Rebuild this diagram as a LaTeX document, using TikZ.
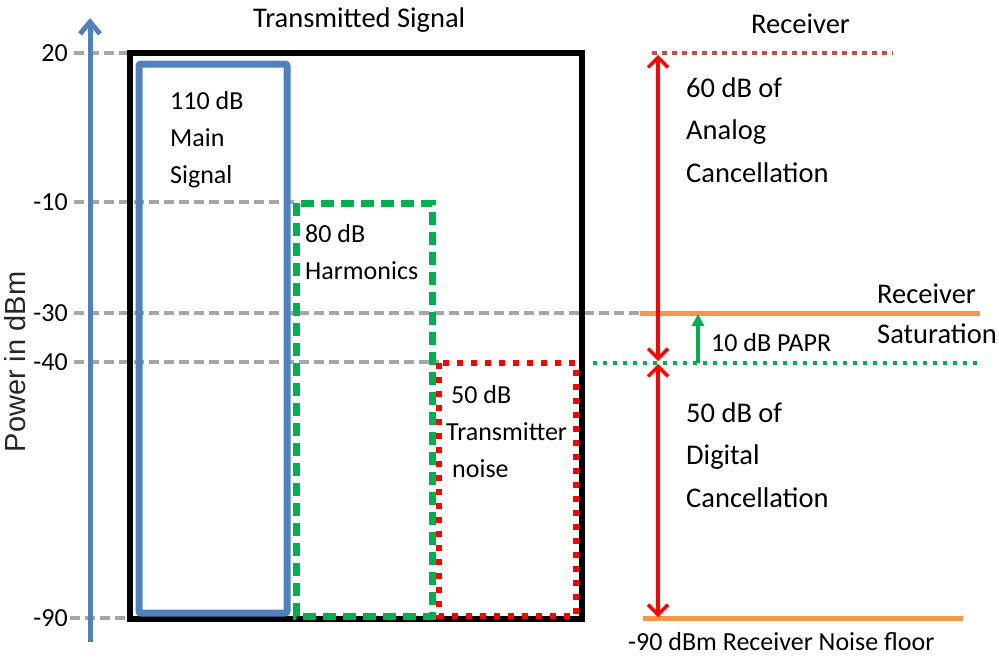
\documentclass[tikz,border=0pt]{standalone}
\usepackage{fontspec}
\setmainfont{Carlito}
\newfontfamily\axisfont{Liberation Sans}
\usetikzlibrary{arrows.meta}
\definecolor{axblue}{HTML}{4F81BD}
\definecolor{grn}{HTML}{00B050}
\definecolor{rd}{HTML}{FF0000}
\definecolor{org}{HTML}{F79646}
\definecolor{gry}{HTML}{A6A6A6}
\definecolor{rcv}{HTML}{C0504D}
\begin{document}
\begin{tikzpicture}[x=1pt,y=-1pt,
  big/.style={font=\fontsize{28.5}{42.5}\selectfont, inner sep=0pt, align=left, anchor=base west},
  small/.style={font=\fontsize{26}{37}\selectfont, inner sep=0pt, align=left, anchor=base west},
  tick/.style={font=\fontsize{26}{30}\selectfont, inner sep=0pt, anchor=east},
  guide/.style={gry, line width=3.5pt, dash pattern=on 10pt off 5pt},
  axisline/.style={axblue, line width=5pt, -{Straight Barb[length=12pt,width=20pt,line width=5pt]}},
  blackbox/.style={black, line width=6pt},
  mainbox/.style={axblue, line width=7pt, rounded corners=2pt},
  harmbox/.style={grn, line width=7pt, dash pattern=on 13pt off 7pt},
  noisebox/.style={rd, line width=6pt, dash pattern=on 6pt off 8pt},
  rcvline/.style={rcv, line width=4.5pt, dash pattern=on 4.5pt off 5.5pt},
  orangeline/.style={org, line width=5pt},
  greendots/.style={grn, line width=4pt, dash pattern=on 4pt off 6pt},
  cancel/.style={rd, line width=3.5pt, {Straight Barb[length=10pt,width=20pt,line width=3.5pt]}-{Straight Barb[length=10pt,width=20pt,line width=3.5pt]}},
  papr/.style={grn, line width=3.5pt, -{Triangle[length=12pt,width=12pt]}}
]
\useasboundingbox (0,0) rectangle (999,662);

% tick labels
\node[tick] (t20) at (68,53) {20};
\node[tick] (t10) at (68,202) {-10};
\node[tick] (t30) at (68,313) {-30};
\node[tick] (t40) at (68,362) {-40};
\node[tick] (t90) at (68,618) {-90};

% guide end points
\coordinate (g20) at (130,53);
\coordinate (g10) at (297,202);
\coordinate (g30) at (640,313);
\coordinate (g40) at (439,362);
\coordinate (g90) at (130,618);

\draw[guide] (t20.east) ++(6,0) -- (g20);
\draw[guide] (t10.east) ++(6,0) -- (g10);
\draw[guide] (t30.east) ++(6,0) -- (g30);
\draw[guide] (t40.east) ++(6,0) -- (g40);
\draw[guide] (t90.east) ++(2,0) -- (g90);

% axis
\coordinate (ax0) at (90,642);
\coordinate (ax1) at (90,18);
\draw[axisline] (ax0) -- (ax1);
\node[font=\axisfont\fontsize{29}{32}\selectfont, text=black!85, rotate=90, anchor=base, inner sep=0pt] (ylab) at (25,362) {Power in dBm};

% boxes
\draw[blackbox] (130,53) rectangle (582,619);
\draw[mainbox] (139,64) rectangle (287,613);
\draw[harmbox] (296,203) rectangle (432,616);
\draw[noisebox] (439,363) rectangle (576,616);

% box labels (anchor = baseline of last line)
\node[small] (mainlab) at (170,183) {110 dB\\Main\\Signal};
\node[small] (harmlab) at (305,279) {80 dB\\Harmonics};
\node[small] (noiselab) at (446,477) {\hspace{5pt}50 dB\\Transmitter\\\hspace{6pt}noise};

% titles
\node[big] (title) at (253,27) {Transmitted Signal};
\node[big] (rcvtitle) at (751,33) {Receiver};

% receiver side
\coordinate (r20a) at (652,53);
\coordinate (r20b) at (893,53);
\draw[rcvline] (r20a) -- (r20b);

\coordinate (o30a) at (640,313);
\coordinate (o30b) at (980,313);
\draw[orangeline] (o30a) -- (o30b);

\coordinate (o90a) at (643,618);
\coordinate (o90b) at (963,618);
\draw[orangeline] (o90a) -- (o90b);

\coordinate (c1a) at (658,55);
\coordinate (c1b) at (658,361);
\coordinate (c2a) at (658,364);
\coordinate (c2b) at (658,617);
\draw[cancel] (c1b) -- (c1a);
\draw[cancel] (c2a) -- (c2b);

\coordinate (gd40a) at (593,363);
\coordinate (gd40b) at (980,363);
\draw[greendots] (gd40a) -- (gd40b);

\coordinate (pa) at (698,363);
\coordinate (pb) at (698,314);
\draw[papr] (pa) -- (pb);

\node[small] (paprlab) at (711,351) {10 dB PAPR};
\node[big] (satlab) at (877,303) {Receiver};
\node[big] (satlab2) at (877,343) {Saturation};
\node[big] (analab) at (686,182) {60 dB of\\Analog\\Cancellation};
\node[big] (diglab) at (686,507) {50 dB of\\Digital\\Cancellation};
\node[small] (floorlab) at (628,650) {-90 dBm Receiver Noise floor};
\end{tikzpicture}
\end{document}
